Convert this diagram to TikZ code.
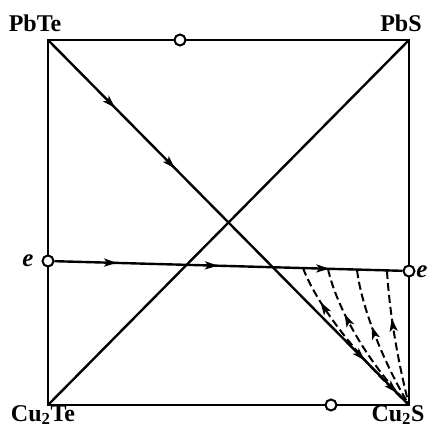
\documentclass[tikz,border=0pt]{standalone}
\usepackage{fontspec}
\setmainfont{Liberation Serif}
\usetikzlibrary{arrows.meta,decorations.markings}
\begin{document}
\begin{tikzpicture}[x=1pt,y=-1pt,
  line/.style={line width=2.4pt},
  dline/.style={line width=2pt, dash pattern=on 8pt off 4pt},
  circ/.style={circle, draw, fill=white, line width=2pt, inner sep=0pt, minimum size=11pt},
  lab/.style={font=\fontsize{24}{28}\selectfont\bfseries, inner sep=0pt},
  elab/.style={font=\fontsize{25}{28}\selectfont\bfseries\itshape, inner sep=0pt},
  mytip/.tip={Stealth[length=13pt,width=8pt,inset=3pt]},
]
\useasboundingbox (0,0) rectangle (430,431);
% corners
\coordinate (A) at (48,40);
\coordinate (B) at (409,40);
\coordinate (C) at (48,405);
\coordinate (D) at (409,405);
% square
\draw[line] (A) -- (B) -- (D) -- (C) -- cycle;
% diagonals
\draw[line] (C) -- (B);
\draw[line, postaction={decorate, solid}, decoration={markings,
   mark=at position 0.186 with {\arrow{mytip}},
   mark=at position 0.352 with {\arrow{mytip}},
   mark=at position 0.878 with {\arrow{mytip}},
   mark=at position 0.967 with {\arrow{mytip}}}] (A) -- (D);
% circles
\node[circ] (eL) at (48,261) {};
\node[circ] (eR) at (409,271) {};
\node[circ] (mT) at (180,40) {};
\node[circ] (mB) at (331,405) {};
% e line
\draw[line, postaction={decorate}, decoration={markings,
   mark=at position 0.18 with {\arrow{mytip}},
   mark=at position 0.47 with {\arrow{mytip}},
   mark=at position 0.79 with {\arrow{mytip}}}] (eL) -- (eR);
% dashed crystallisation paths
\coordinate (p1) at (303,268);
\coordinate (p2) at (328,269);
\coordinate (p3) at (357,270);
\coordinate (p4) at (387,271);
\tikzset{darr/.style={postaction={decorate, solid}, decoration={markings,
   mark=at position #1 with {\arrowreversed{mytip}}}}}
\draw[dline, darr=0.22] (p1) .. controls (315,300) and (350,350) .. (D);
\draw[dline, darr=0.3] (p2) .. controls (336,305) and (365,360) .. (D);
\draw[dline, darr=0.4] (p3) .. controls (362,310) and (385,365) .. (D);
\draw[dline, darr=0.35] (p4) .. controls (390,320) and (400,370) .. (D);
% labels
\node[lab] (lPbTe) at (35,23) {PbTe};
\node[lab] (lPbS) at (401,23) {PbS};
\node[lab] (lCuTe) at (43,415) {Cu\textsubscript{2}Te};
\node[lab] (lCuS) at (398,415) {Cu\textsubscript{2}S};
\node[elab] (le1) at (28,261) {e};
\node[elab] (le2) at (422,272) {e};
\end{tikzpicture}
\end{document}
